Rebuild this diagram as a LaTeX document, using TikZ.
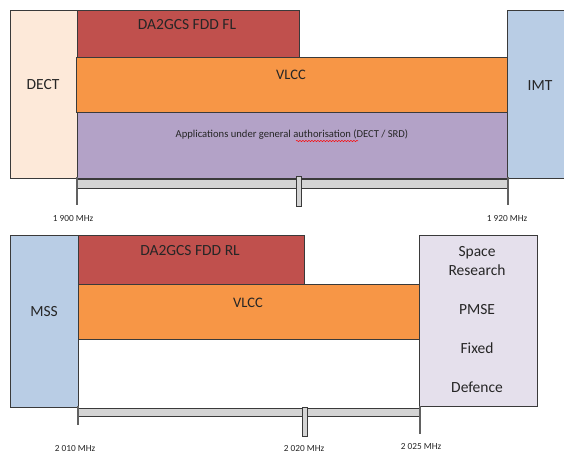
\documentclass[tikz,border=0pt]{standalone}
\usepackage{fontspec}
\setmainfont{Carlito}
\usetikzlibrary{decorations.pathmorphing}

\definecolor{dectpeach}{HTML}{FDE9D9}
\definecolor{gcsred}{HTML}{C0504D}
\definecolor{vlccorange}{HTML}{F79646}
\definecolor{appviolet}{HTML}{B3A2C7}
\definecolor{imtblue}{HTML}{B9CDE5}
\definecolor{spacelilac}{HTML}{E5E0EC}
\definecolor{bargray}{HTML}{D4D4D4}
\definecolor{edgegray}{HTML}{3A3A3A}
\definecolor{textgray}{HTML}{262626}

\begin{document}
\begin{tikzpicture}[x=1pt,y=-1pt,
  every node/.style={text=textgray, inner sep=0pt, align=center},
  band/.style={draw=edgegray, line width=0.7pt},
  axisbar/.style={draw=edgegray, fill=bargray, line width=0.7pt},
  tickline/.style={draw=edgegray!80, line width=1.6pt},
  bigtxt/.style={font=\fontsize{15.5}{18}\selectfont},
  midtxt/.style={font=\fontsize{14.5}{16}\selectfont},
  smalltxt/.style={font=\fontsize{10.6}{12}\selectfont},
  freqtxt/.style={font=\fontsize{9.3}{10}\selectfont}]

\useasboundingbox (0,0) rectangle (564,454);

% 1900-1920 MHz
\draw[band, fill=dectpeach](10,10) rectangle (77,178);
\draw[band, fill=gcsred](77,10) rectangle (299,57);
\draw[band, fill=vlccorange](76,57) rectangle (507,112);
\draw[band, fill=appviolet](77,112) rectangle (507,178);
\fill[imtblue](507,10) rectangle (564,178);
\draw[band](564,10)--(507,10)--(507,178)--(564,178);

\draw[axisbar](77,179) rectangle (507,188);
\draw[tickline](77,177)--(77,205);
\draw[axisbar](296,176) rectangle (301,206);
\draw[tickline](508,177)--(508,205);

\draw(43,85)node[bigtxt](dect){DECT};
\draw(187,25)node[bigtxt](gcsfl){DA2GCS FDD FL};
\draw(291,75)node[midtxt](vlcctop){VLCC};
\draw(292,135)node[smalltxt](apps){Applications under general authorisation (DECT / SRD)};
\draw[red, line width=0.5pt, decorate, decoration={snake, amplitude=0.6pt, segment length=3pt}](296,141)--(358,141);
\draw(540,86)node[bigtxt](imt){IMT};

\draw(73,219)node[freqtxt](f1900){1 900 MHz};
\draw(507,219)node[freqtxt](f1920){1 920 MHz};

% 2010-2025 MHz
\draw[band, fill=imtblue](10,235) rectangle (78,407);
\draw[band, fill=gcsred](78,235) rectangle (304,284);
\draw[band, fill=vlccorange](78,284) rectangle (419,339);
\draw[band, fill=spacelilac](419,235) rectangle (537,406);
\draw[band](78,339)--(78,407);

\draw[axisbar](78,408) rectangle (419,416);
\draw[tickline](78,406)--(78,425);
\draw[axisbar](302,407) rectangle (307,436);
\draw[tickline](420,406)--(420,434);

\draw(44,312)node[bigtxt](mss){MSS};
\draw(190,251)node[bigtxt](gcsrl){DA2GCS FDD RL};
\draw(248,303)node[midtxt](vlccbot){VLCC};
\draw(477,261)node[bigtxt](space){Space\\[1pt]Research};
\draw(477,310)node[bigtxt](pmse){PMSE};
\draw(477,348)node[bigtxt](fixed){Fixed};
\draw(477,387)node[bigtxt](defence){Defence};

\draw(75,449)node[freqtxt](f2010){2 010 MHz};
\draw(304,449)node[freqtxt](f2020){2 020 MHz};
\draw(421,447)node[freqtxt](f2025){2 025 MHz};

\end{tikzpicture}
\end{document}
